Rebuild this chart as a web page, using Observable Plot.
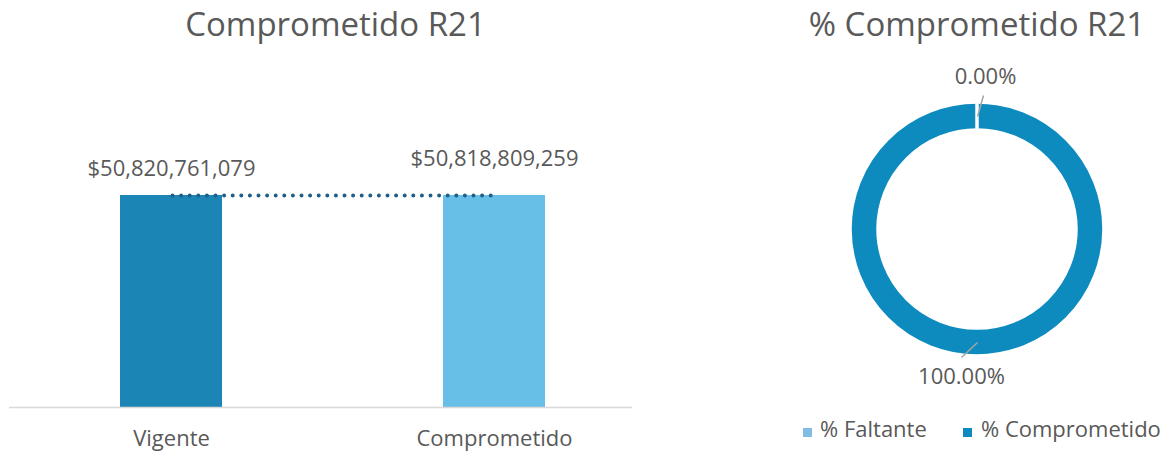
<!DOCTYPE html>
<html>
<head>
<meta charset="utf-8">
<script src="https://cdn.jsdelivr.net/npm/d3@7"></script>
<script src="https://cdn.jsdelivr.net/npm/@observablehq/plot@0.6"></script>
<style>
  body { margin: 0; background: #fff; font-family: "Open Sans", sans-serif; color: #595959; }
  #wrap { position: relative; width: 1167px; height: 452px; overflow: hidden; background: #fff; }
  .title { position: absolute; top: 1px; font-size: 33px; line-height: normal; text-align: center; white-space: nowrap; color: #595959; }
  .chart { position: absolute; top: 52px; }
  .leg { position: absolute; font-size: 22px; line-height: normal; white-space: nowrap; color: #595959; }
  .sw { position: absolute; width: 9px; height: 9px; }
</style>
</head>
<body>
<div id="wrap"></div>
<script>
// ---- data ----
const titles = ["Comprometido R21", "% Comprometido R21"];
const categories = ["Vigente", "Comprometido"];
const amounts = [50820761079, 50818809259];
const pieCategories = ["% Faltante", "% Comprometido"];
const pieValues = [0, 100];

// ---- styles ----
const barColors = ["#1B85B5", "#67BEE6"];
const pieColors = ["#82BCE4", "#0E8BBE"];
const textColor = "#595959";
const fmtMoney = d3.format("$,.0f");
const fmtPct = v => d3.format(".2f")(v) + "%";

const wrap = document.getElementById("wrap");

// titles
[[0, 665, 3], [727, 500, 0]].forEach(([left, w, shift], i) => {
  const t = document.createElement("div");
  t.className = "title";
  t.style.left = (left + shift) + "px";
  t.style.width = w + "px";
  t.textContent = titles[i];
  wrap.appendChild(t);
});

// ---- left: bar chart ----
const barData = categories.map((c, i) => ({cat: c, value: amounts[i]}));
const labelLift = [20, 30];
const axisY = 355;
const barTop = 143;
const yMax = 60e9;
const yTopPx = axisY - (axisY - barTop) * yMax / amounts[0];

const left = Plot.plot({
  width: 665,
  height: 400,
  marginLeft: 9,
  marginRight: 33,
  marginTop: yTopPx,
  marginBottom: 400 - axisY,
  style: {fontFamily: "Open Sans", fontSize: "22px", color: textColor, background: "transparent", overflow: "visible"},
  x: {type: "band", domain: categories, range: [9.5, 655.5], paddingInner: 0.684, paddingOuter: 0.342, label: null},
  y: {domain: [0, yMax], range: [axisY, yTopPx], axis: null},
  color: {domain: categories, range: barColors},
  marks: [
    Plot.barY(barData, {x: "cat", y: "value", fill: "cat"}),
    Plot.ruleY([0], {stroke: "#D9D9D9", strokeWidth: 1.5}),
    Plot.link([{a: categories[0], b: categories[1], v: amounts[0]}], {
      x1: "a", x2: "b", y1: "v", y2: "v", dx: 1,
      stroke: "#1F5F8A", strokeWidth: 4, strokeDasharray: "0,8.6", strokeLinecap: "round"
    }),
    ...barData.map((d, i) => Plot.text([d], {
      x: "cat", y: "value", text: r => fmtMoney(r.value),
      dy: -labelLift[i], lineAnchor: "bottom", fill: textColor, fontSize: 22
    })),
    Plot.axisX({tickSize: 0, tickPadding: 23, fontSize: 22, fill: textColor, label: null})
  ]
});
left.classList.add("chart");
left.style.left = "0px";
wrap.appendChild(left);

// ---- right: donut ----
const OUTER = 127, INNER = 99;
const cxPx = 217, cyPx = 177;
const pieArcs = d3.pie().sort(null).startAngle(0).endAngle(2 * Math.PI)(pieValues);
const midR = (OUTER + INNER) / 2 / OUTER;
const leaderOffsets = [[6, -21], [-16, 15]];
const labelOffsets = [[2, -12], [0, 26]];
const leaderData = pieArcs.map((a, i) => {
  const m = (a.startAngle + a.endAngle) / 2;
  const x1 = midR * Math.sin(m), y1 = midR * Math.cos(m);
  const x2 = x1 + leaderOffsets[i][0] / OUTER, y2 = y1 - leaderOffsets[i][1] / OUTER;
  return {
    x1, y1, x2, y2,
    lx: x2 + labelOffsets[i][0] / OUTER, ly: y2 - labelOffsets[i][1] / OUTER,
    label: fmtPct(pieValues[i])
  };
});

function donut(index, scales) {
  const cx = scales.x(0), cy = scales.y(0);
  const ro = scales.x(1) - cx, ri = ro * INNER / OUTER;
  const arc = d3.arc().innerRadius(ri).outerRadius(ro);
  const g = d3.create("svg:g").attr("transform", `translate(${cx},${cy})`);
  const order = pieArcs.map((a, i) => i).reverse();
  g.selectAll("path").data(order).join("path")
    .attr("d", i => arc(pieArcs[i]))
    .attr("fill", i => pieColors[i])
    .attr("stroke", "#fff")
    .attr("stroke-width", 3.5);
  return g.node();
}

const right = Plot.plot({
  width: 407,
  height: 400,
  margin: 0,
  style: {fontFamily: "Open Sans", fontSize: "22px", color: textColor, background: "transparent", overflow: "visible"},
  x: {domain: [-1, 1], range: [cxPx - OUTER, cxPx + OUTER], axis: null},
  y: {domain: [-1, 1], range: [cyPx + OUTER, cyPx - OUTER], axis: null},
  marks: [
    donut,
    Plot.link(leaderData, {x1: "x1", y1: "y1", x2: "x2", y2: "y2", stroke: "#A6A6A6", strokeWidth: 1.5}),
    Plot.text(leaderData, {x: "lx", y: "ly", text: "label", lineAnchor: "bottom", fill: textColor, fontSize: 22})
  ]
});
right.classList.add("chart");
right.style.left = "760px";
wrap.appendChild(right);

// ---- legend ----
const legPos = [[803, 820], [963, 981]];
pieCategories.forEach((c, i) => {
  const s = document.createElement("div");
  s.className = "sw";
  s.style.left = legPos[i][0] + "px";
  s.style.top = "428px";
  s.style.background = pieColors[i];
  wrap.appendChild(s);
  const t = document.createElement("div");
  t.className = "leg";
  t.style.left = legPos[i][1] + "px";
  t.style.top = "413px";
  t.textContent = c;
  wrap.appendChild(t);
});
</script>
</body>
</html>
